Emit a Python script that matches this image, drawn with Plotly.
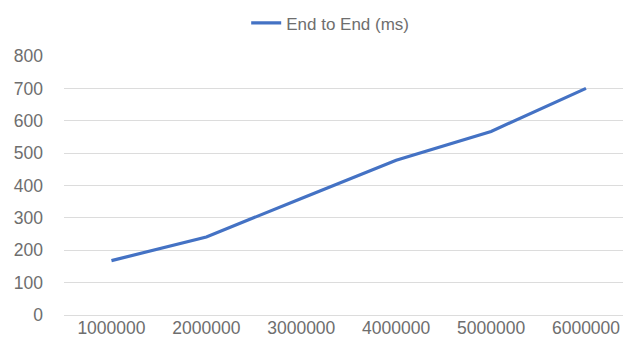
import plotly.graph_objects as go

categories = ["1000000", "2000000", "3000000", "4000000", "5000000", "6000000"]
end_to_end_ms = [168, 241, 360, 478, 567, 700]
y_ticks = [0, 100, 200, 300, 400, 500, 600, 700, 800]

font_family = "Liberation Sans, Arial, sans-serif"
text_color = "#6e6e6e"
grid_color = "#dcdcdc"

fig = go.Figure()
fig.add_trace(go.Scatter(
    x=categories, y=end_to_end_ms, mode="lines", name="End to End (ms)",
    line=dict(color="#4472C4", width=3.2),
))

fig.update_layout(
    width=623, height=354,
    margin=dict(l=64, r=0, t=56, b=39, autoexpand=False),
    paper_bgcolor="white", plot_bgcolor="white",
    font=dict(family=font_family, size=17, color=text_color),
    showlegend=True,
    legend=dict(orientation="h", x=0.53, xanchor="center", xref="container",
                y=0.985, yanchor="top", yref="container",
                font=dict(size=17, color=text_color), itemwidth=30,
                bgcolor="rgba(0,0,0,0)"),
    xaxis=dict(type="category", range=[-0.5, 5.39], showgrid=False, automargin=False,
               showline=False, ticks="", tickfont=dict(size=17.5, color=text_color)),
    yaxis=dict(range=[0, 800], tickvals=y_ticks, showgrid=True, gridcolor=grid_color,
               gridwidth=1, zeroline=True, zerolinecolor=grid_color, zerolinewidth=1,
               showline=False, ticks="", ticklabelstandoff=20, automargin=False,
               tickfont=dict(size=17.5, color=text_color)),
)

fig.write_html("out.html", config={"displayModeBar": False, "staticPlot": True},
               post_script="document.body.style.margin='0';document.body.style.overflow='hidden';")
